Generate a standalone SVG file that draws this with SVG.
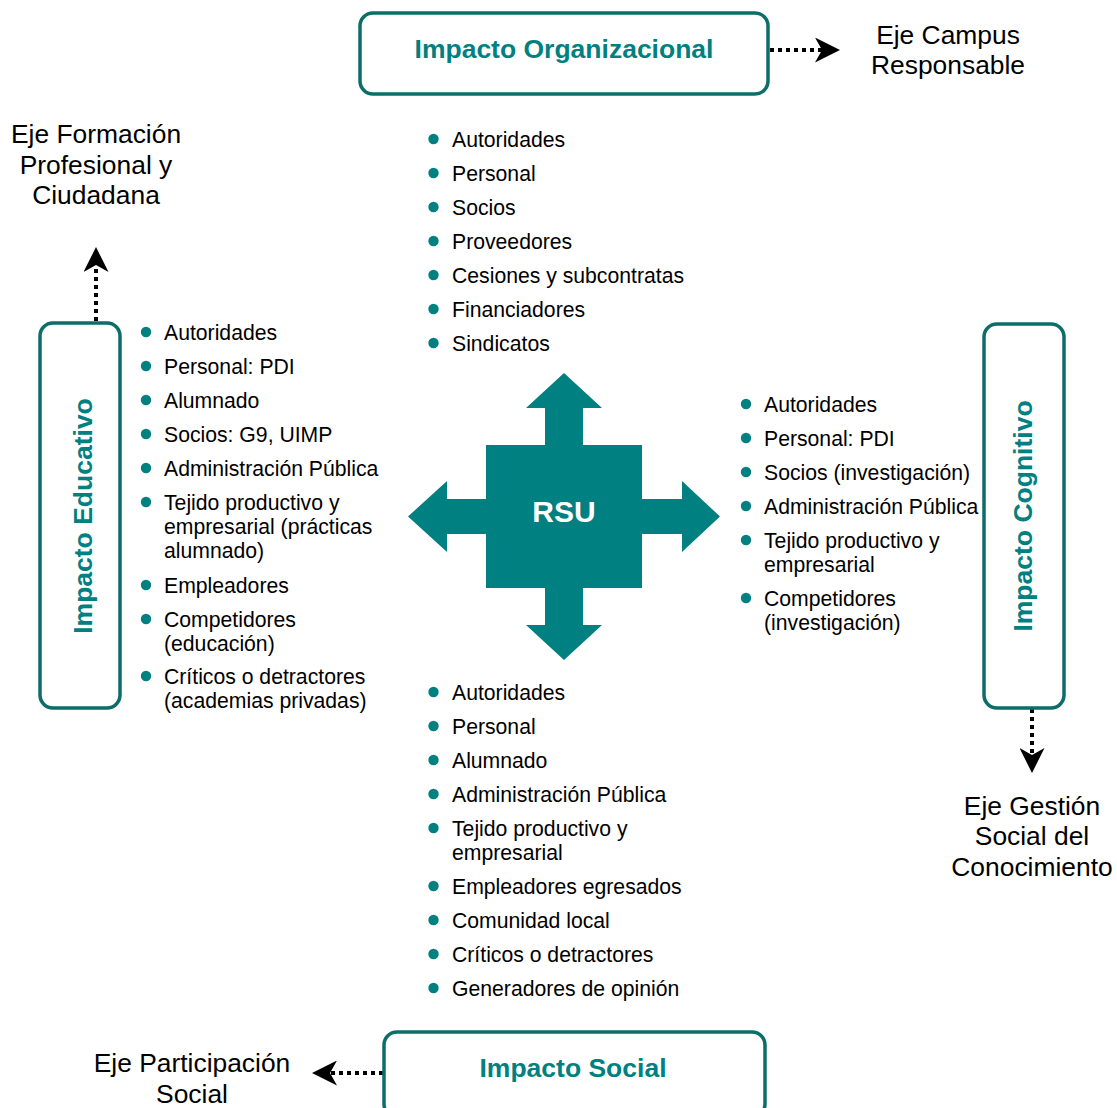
<svg xmlns="http://www.w3.org/2000/svg" width="1117" height="1108" viewBox="0 0 1117 1108">
<style>
.box{fill:#fff;stroke:#0b6e69;stroke-width:3.5}
.hdr{font-family:"Liberation Sans",Arial,sans-serif;font-weight:bold;font-size:26.5px;fill:#008080;text-anchor:middle}
.eje{font-family:"Liberation Sans",Arial,sans-serif;font-size:26.4px;fill:#000;text-anchor:middle}
.li{font-family:"Liberation Sans",Arial,sans-serif;font-size:21.2px;fill:#000}
.dot{fill:#008080}
.con{fill:none;stroke:#000;stroke-width:4;stroke-dasharray:4 4}
</style>
<defs>
<marker id="arr" viewBox="0 0 25 25" refX="7" refY="12.5" markerWidth="25" markerHeight="25" orient="auto" markerUnits="userSpaceOnUse">
<path d="M0,0 L25,12.5 L0,25 L7,12.5 Z" fill="#000"/>
</marker>
</defs>
<rect width="1117" height="1108" fill="#fff"/>

<g id="connectors">
<line class="con" x1="770" y1="50" x2="822" y2="50" marker-end="url(#arr)"/>
<line class="con" x1="96" y1="321" x2="96" y2="265" marker-end="url(#arr)"/>
<line class="con" x1="1032" y1="709" x2="1032" y2="755" marker-end="url(#arr)"/>
<line class="con" x1="383" y1="1073" x2="330" y2="1073" marker-end="url(#arr)"/>
</g>

<g id="rsu">
<polygon fill="#008080" points="564,373 602,408 583,408 583,445 642,445 642,499 682,499 682,481 720,516.5 682,552 682,534 642,534 642,588 583,588 583,625 602,625 564,660 526,625 545,625 545,588 486,588 486,534 447,534 447,552 408,516.5 447,481 447,499 486,499 486,445 545,445 545,408 526,408"/>
<text x="564" y="522" font-family="'Liberation Sans',Arial,sans-serif" font-weight="bold" font-size="30" fill="#fff" text-anchor="middle">RSU</text>
</g>

<g id="impacto-organizacional">
<rect class="box" x="360" y="13" width="408" height="81" rx="13"/>
<text class="hdr" x="564" y="58">Impacto Organizacional</text>
</g>
<g id="impacto-educativo">
<rect class="box" x="40" y="323" width="80" height="385" rx="13"/>
<text class="hdr" transform="translate(92,516) rotate(-90)">Impacto Educativo</text>
</g>
<g id="impacto-cognitivo">
<rect class="box" x="984" y="324" width="80" height="384" rx="13"/>
<text class="hdr" transform="translate(1032,516) rotate(-90)">Impacto Cognitivo</text>
</g>
<g id="impacto-social">
<rect class="box" x="384" y="1032" width="381" height="85" rx="13"/>
<text class="hdr" x="573" y="1077">Impacto Social</text>
</g>

<g id="eje-campus">
<text class="eje" x="948" y="44">Eje Campus</text>
<text class="eje" x="948" y="74">Responsable</text>
</g>
<g id="eje-formacion">
<text class="eje" x="96" y="143">Eje Formación</text>
<text class="eje" x="96" y="174">Profesional y</text>
<text class="eje" x="96" y="204">Ciudadana</text>
</g>
<g id="eje-gestion">
<text class="eje" x="1032" y="815">Eje Gestión</text>
<text class="eje" x="1032" y="845">Social del</text>
<text class="eje" x="1032" y="876">Conocimiento</text>
</g>
<g id="eje-participacion">
<text class="eje" x="192" y="1072">Eje Participación</text>
<text class="eje" x="192" y="1103">Social</text>
</g>

<g id="list-organizacional">
<circle class="dot" cx="433.5" cy="139" r="5.2"/><text class="li" x="452" y="147">Autoridades</text>
<circle class="dot" cx="433.5" cy="173" r="5.2"/><text class="li" x="452" y="181">Personal</text>
<circle class="dot" cx="433.5" cy="207" r="5.2"/><text class="li" x="452" y="215">Socios</text>
<circle class="dot" cx="433.5" cy="241" r="5.2"/><text class="li" x="452" y="249">Proveedores</text>
<circle class="dot" cx="433.5" cy="275" r="5.2"/><text class="li" x="452" y="283">Cesiones y subcontratas</text>
<circle class="dot" cx="433.5" cy="309" r="5.2"/><text class="li" x="452" y="317">Financiadores</text>
<circle class="dot" cx="433.5" cy="343" r="5.2"/><text class="li" x="452" y="351">Sindicatos</text>
</g>

<g id="list-educativo">
<circle class="dot" cx="146" cy="332" r="5.2"/><text class="li" x="164" y="340">Autoridades</text>
<circle class="dot" cx="146" cy="366" r="5.2"/><text class="li" x="164" y="374">Personal: PDI</text>
<circle class="dot" cx="146" cy="400" r="5.2"/><text class="li" x="164" y="408">Alumnado</text>
<circle class="dot" cx="146" cy="434" r="5.2"/><text class="li" x="164" y="442">Socios: G9, UIMP</text>
<circle class="dot" cx="146" cy="468" r="5.2"/><text class="li" x="164" y="476">Administración Pública</text>
<circle class="dot" cx="146" cy="502" r="5.2"/><text class="li" x="164" y="510">Tejido productivo y</text>
<text class="li" x="164" y="534">empresarial (prácticas</text>
<text class="li" x="164" y="558">alumnado)</text>
<circle class="dot" cx="146" cy="585" r="5.2"/><text class="li" x="164" y="593">Empleadores</text>
<circle class="dot" cx="146" cy="619" r="5.2"/><text class="li" x="164" y="627">Competidores</text>
<text class="li" x="164" y="651">(educación)</text>
<circle class="dot" cx="146" cy="676" r="5.2"/><text class="li" x="164" y="684">Críticos o detractores</text>
<text class="li" x="164" y="708">(academias privadas)</text>
</g>

<g id="list-cognitivo">
<circle class="dot" cx="746" cy="404" r="5.2"/><text class="li" x="764" y="412">Autoridades</text>
<circle class="dot" cx="746" cy="438" r="5.2"/><text class="li" x="764" y="446">Personal: PDI</text>
<circle class="dot" cx="746" cy="472" r="5.2"/><text class="li" x="764" y="480">Socios (investigación)</text>
<circle class="dot" cx="746" cy="506" r="5.2"/><text class="li" x="764" y="514">Administración Pública</text>
<circle class="dot" cx="746" cy="540" r="5.2"/><text class="li" x="764" y="548">Tejido productivo y</text>
<text class="li" x="764" y="572">empresarial</text>
<circle class="dot" cx="746" cy="598" r="5.2"/><text class="li" x="764" y="606">Competidores</text>
<text class="li" x="764" y="630">(investigación)</text>
</g>

<g id="list-social">
<circle class="dot" cx="433.5" cy="692" r="5.2"/><text class="li" x="452" y="700">Autoridades</text>
<circle class="dot" cx="433.5" cy="726" r="5.2"/><text class="li" x="452" y="734">Personal</text>
<circle class="dot" cx="433.5" cy="760" r="5.2"/><text class="li" x="452" y="768">Alumnado</text>
<circle class="dot" cx="433.5" cy="794" r="5.2"/><text class="li" x="452" y="802">Administración Pública</text>
<circle class="dot" cx="433.5" cy="828" r="5.2"/><text class="li" x="452" y="836">Tejido productivo y</text>
<text class="li" x="452" y="860">empresarial</text>
<circle class="dot" cx="433.5" cy="886" r="5.2"/><text class="li" x="452" y="894">Empleadores egresados</text>
<circle class="dot" cx="433.5" cy="920" r="5.2"/><text class="li" x="452" y="928">Comunidad local</text>
<circle class="dot" cx="433.5" cy="954" r="5.2"/><text class="li" x="452" y="962">Críticos o detractores</text>
<circle class="dot" cx="433.5" cy="988" r="5.2"/><text class="li" x="452" y="996">Generadores de opinión</text>
</g>
</svg>
